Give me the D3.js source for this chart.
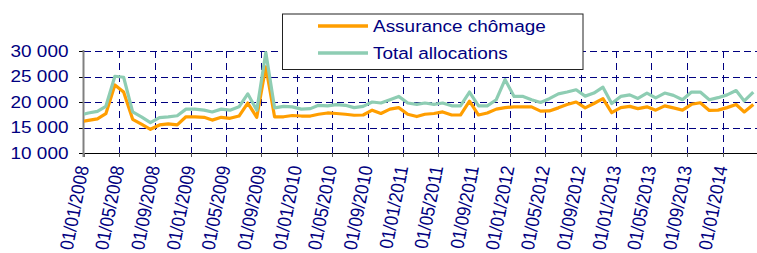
<!DOCTYPE html>
<html><head><meta charset="utf-8">
<script src="https://cdn.jsdelivr.net/npm/d3@7"></script>
<style>html,body{margin:0;padding:0;background:#fff;overflow:hidden}</style>
</head><body>
<svg id="c" width="757" height="253"></svg>
<script>
const months = ["2007-12",
"2008-01","2008-02","2008-03","2008-04","2008-05","2008-06","2008-07","2008-08","2008-09","2008-10","2008-11","2008-12",
"2009-01","2009-02","2009-03","2009-04","2009-05","2009-06","2009-07","2009-08","2009-09","2009-10","2009-11","2009-12",
"2010-01","2010-02","2010-03","2010-04","2010-05","2010-06","2010-07","2010-08","2010-09","2010-10","2010-11","2010-12",
"2011-01","2011-02","2011-03","2011-04","2011-05","2011-06","2011-07","2011-08","2011-09","2011-10","2011-11","2011-12",
"2012-01","2012-02","2012-03","2012-04","2012-05","2012-06","2012-07","2012-08","2012-09","2012-10","2012-11","2012-12",
"2013-01","2013-02","2013-03","2013-04","2013-05","2013-06","2013-07","2013-08","2013-09","2013-10","2013-11","2013-12",
"2014-01","2014-02","2014-03","2014-04"];
const assurance = [16100,
16400,16700,17700,23350,21950,16600,15650,14650,15500,15700,15500,17100,
17100,17000,16450,17000,16800,17250,19800,17000,26900,17100,17100,17350,
17250,17250,17600,17850,17750,17600,17400,17450,18400,17750,18600,18900,
17600,17150,17600,17750,18050,17450,17450,20150,17450,17850,18600,18900,
19050,19050,19050,18200,18250,18850,19500,20000,18850,19700,20650,17900,
18900,19150,18700,19050,18400,19250,18850,18400,19550,19850,18350,18400,
18900,19500,18050,19500];
const total = [17350,
17850,18150,19150,25050,24850,18050,17100,15950,16950,17100,17300,18600,
18600,18400,18050,18600,18400,19050,21600,18400,29700,18850,19150,19050,
18600,18700,19350,19250,19500,19350,18900,19150,20000,19800,20450,21100,
19800,19550,19800,19550,19800,19250,19250,21950,19250,19250,20450,24400,
21100,21100,20450,19900,20650,21600,21950,22400,21150,21750,22900,19700,
21100,21400,20700,21750,20800,21750,21300,20450,21950,21950,20450,20850,
21400,22250,20200,21950];
const seriesNames = ["Assurance chômage","Total allocations"];
const seriesColors = ["#FF9E00","#8ECDB3"];
const xTickLabels = ["01/01/2008","01/05/2008","01/09/2008","01/01/2009","01/05/2009","01/09/2009",
"01/01/2010","01/05/2010","01/09/2010","01/01/2011","01/05/2011","01/09/2011",
"01/01/2012","01/05/2012","01/09/2012","01/01/2013","01/05/2013","01/09/2013","01/01/2014"];
const yTickValues = [10000,15000,20000,25000,30000];

const navy = "#000080";
const SX = 1.115;
const fmt = d3.formatLocale({decimal:",",thousands:" ",grouping:[3],currency:["","€"]}).format(",d");
const parseTick = d3.timeParse("%d/%m/%Y");
const parseMonth = s => { const [y,m] = s.split("-").map(Number); return new Date(y, m-1, 16); };

const L = 84, R = 757, T = 51, B = 153;
const x = d3.scaleTime().domain([parseTick("01/01/2008"), parseTick("01/01/2014")]).range([L, 722.7]);
const y = d3.scaleLinear().domain([10000, 30000]).range([B, T]);

const svg = d3.select("#c");
svg.append("defs").append("clipPath").attr("id","clip")
  .append("rect").attr("x", L).attr("y", 0).attr("width", R - L).attr("height", B + 2);

// horizontal grid
svg.append("g").selectAll("line").data(yTickValues.filter(v => v > 10000)).join("line")
  .attr("x1", L).attr("x2", R).attr("y1", d => Math.round(y(d)) + 0.5).attr("y2", d => Math.round(y(d)) + 0.5)
  .attr("stroke", navy).attr("stroke-width", 1).attr("stroke-dasharray", "7,4");

// vertical grid
const tickDates = xTickLabels.map(parseTick);
svg.append("g").selectAll("line").data(tickDates.slice(1)).join("line")
  .attr("x1", d => Math.round(x(d)) + 0.5).attr("x2", d => Math.round(x(d)) + 0.5)
  .attr("y1", T).attr("y2", B)
  .attr("stroke", navy).attr("stroke-width", 1).attr("stroke-dasharray", "7,5");

// axes lines
svg.append("line").attr("x1", L - 1).attr("x2", R).attr("y1", B + 0.5).attr("y2", B + 0.5)
  .attr("stroke", "#000").attr("stroke-width", 1);
svg.append("g").selectAll("line").data(tickDates).join("line")
  .attr("x1", d => Math.round(x(d)) + 0.5).attr("x2", d => Math.round(x(d)) + 0.5)
  .attr("y1", B).attr("y2", B + 4).attr("stroke", "#555").attr("stroke-width", 1);
svg.append("g").selectAll("line").data(yTickValues).join("line")
  .attr("x1", L - 5).attr("x2", L).attr("y1", d => Math.round(y(d)) + 0.5).attr("y2", d => Math.round(y(d)) + 0.5)
  .attr("stroke", "#000").attr("stroke-width", 1);
svg.append("line").attr("x1", L - 0.5).attr("x2", L - 0.5).attr("y1", T - 1).attr("y2", B + 4)
  .attr("stroke", "#808080").attr("stroke-width", 2);

// y labels
svg.append("g").selectAll("text").data(yTickValues).join("text")
  .attr("transform", d => `translate(68.5,${y(d) + 5.5}) scale(${SX},1)`)
  .attr("text-anchor", "end").attr("font-family", "Liberation Sans, Arial, sans-serif")
  .attr("font-size", 17).attr("fill", navy).text(d => fmt(d));

// x labels
svg.append("g").selectAll("text").data(xTickLabels).join("text")
  .attr("transform", d => `translate(${x(parseTick(d)) + 5},167) scale(${SX},1) rotate(-80)`)
  .attr("text-anchor", "end").attr("font-family", "Liberation Sans, Arial, sans-serif")
  .attr("font-size", 17).attr("fill", navy).text(d => d);

// lines
const pts = months.map(parseMonth);
const line = d3.line().x((d, i) => x(pts[i])).y(d => y(d));
const g = svg.append("g").attr("clip-path", "url(#clip)");
[assurance, total].forEach((s, k) => {
  g.append("path").datum(s).attr("d", line).attr("fill", "none")
    .attr("stroke", seriesColors[k]).attr("stroke-width", 3.2).attr("stroke-linejoin", "round");
});

// legend
const lg = svg.append("g");
lg.append("rect").attr("x", 282.5).attr("y", 14).attr("width", 300.5).attr("height", 55.5)
  .attr("fill", "#fff").attr("stroke", "#222").attr("stroke-width", 1);
seriesNames.forEach((n, k) => {
  const yy = [26, 53][k];
  lg.append("line").attr("x1", 318).attr("x2", 368).attr("y1", yy).attr("y2", yy)
    .attr("stroke", seriesColors[k]).attr("stroke-width", 3.5);
  lg.append("text").attr("transform", `translate(373,${yy + 5.5}) scale(${SX},1)`)
    .attr("font-family", "Liberation Sans, Arial, sans-serif").attr("font-size", 17)
    .attr("fill", navy).text(n);
});
</script>
</body></html>
